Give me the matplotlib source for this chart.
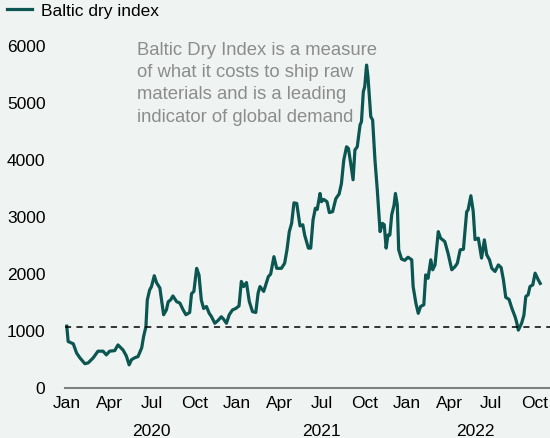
import matplotlib
matplotlib.use("Agg")
import matplotlib.pyplot as plt
import matplotlib.dates as mdates
import numpy as np
import pandas as pd

# Baltic Dry Index
start_date = "2020-01-01"
days_since_start = [
    0, 3, 14, 21, 28, 39, 46, 57, 67, 78, 85, 92, 103, 110, 116, 121, 128, 134,
    139, 146, 153, 161, 165, 170, 173, 178, 182, 188, 193, 200,
    208, 214, 218, 223, 228, 236, 243, 250, 256, 264, 268, 273, 279, 284, 289,
    294, 300, 306, 311, 318, 325, 332, 337, 343, 349, 356, 363, 370, 375, 380,
    386, 392, 399, 406, 411, 415, 423, 433, 438, 445, 451, 461, 468, 473, 478,
    483, 488, 494, 501, 507, 511, 519, 524, 529, 534, 538, 544, 547, 552, 559,
    564, 571, 578, 585, 590, 595, 601, 605, 610, 615, 619, 624, 630, 633, 637,
    640, 644, 647, 653, 657, 662, 667, 673, 678, 682, 686, 690, 694, 698, 703,
    706, 710, 713, 719, 726, 733, 741, 744, 750, 755, 760, 767, 771, 776, 782,
    786, 791, 798, 803, 812, 819, 827, 834, 839, 845, 852, 859, 862, 868, 873,
    877, 884, 891, 897, 902, 908, 913, 920, 927, 933, 938, 943, 950, 956, 963,
    966, 970, 977, 982, 986, 991, 995, 1001, 1006, 1013, 1017,
]
bdi = [
    1080, 810, 770, 610, 525, 420, 435, 525, 640, 640, 575, 640, 650, 750, 700,
    660, 555, 400, 490, 525, 545, 700, 895, 1070, 1540, 1715, 1775, 1965, 1840,
    1750,
    1280, 1365, 1510, 1540, 1610, 1510, 1485, 1365, 1280, 1320, 1650, 1690,
    2095, 1980, 1540, 1390, 1425, 1305, 1245, 1130, 1180, 1245, 1200, 1130,
    1280, 1365, 1390, 1435, 1865, 1775, 1845, 1515, 1335, 1320, 1660, 1775,
    1690, 1950, 1995, 2300, 2095, 2095, 2185, 2420, 2740, 2885, 3245, 3235,
    2840, 2860, 2680, 2450, 2450, 2945, 3150, 3130, 3410, 3265, 3305, 3265,
    3075, 3090, 3320, 3400, 3585, 3995, 4230, 4200, 3935, 3650, 4175, 4230,
    4615, 4670, 5195, 5285, 5665, 5460, 4760, 4700, 4000, 3475, 2740, 2885,
    2860, 2450, 2680, 2680, 3035, 3205, 3410, 3205, 2420, 2260, 2235, 2290,
    2245, 1775, 1480, 1305, 1425, 1455, 1980, 1920, 2245, 2070, 2155, 2740,
    2625, 2565, 2360, 2070, 2125, 2185, 2420, 2430, 3090, 3120, 3370, 3100,
    2600, 2625, 2275, 2595, 2335, 2245, 2095, 2040, 2155, 2110, 1890, 1585,
    1550, 1395, 1245, 1160, 1010, 1130, 1275, 1600, 1630, 1775, 1805, 2010,
    1890, 1830,
]
reference_level = 1070
y_ticks = [0, 1000, 2000, 3000, 4000, 5000, 6000]
month_ticks = [
    "2020-01-01", "2020-04-01", "2020-07-01", "2020-10-01",
    "2021-01-01", "2021-04-01", "2021-07-01", "2021-10-01",
    "2022-01-01", "2022-04-01", "2022-07-01", "2022-10-01",
]
month_labels = ["Jan", "Apr", "Jul", "Oct"] * 3
year_labels = ["2020", "2021", "2022"]
year_label_dates = ["2020-07-01", "2021-07-01", "2022-05-28"]

note = ("Baltic Dry Index is a measure\n"
        "of what it costs to ship raw\n"
        "materials and is a leading\n"
        "indicator of global demand")

BG = "#eff4f3"
LINE = "#0c5652"

plt.rcParams["font.family"] = ["Liberation Sans", "DejaVu Sans"]
plt.rcParams["font.size"] = 12.5

dates = pd.to_datetime(start_date) + pd.to_timedelta(days_since_start, unit="D")

fig = plt.figure(figsize=(5.5, 4.38), dpi=100, facecolor=BG)
ax = fig.add_axes([0.118, 0.115, 0.882, 0.78])
ax.set_facecolor(BG)

ax.plot(dates, bdi, color=LINE, linewidth=2.3, label="Baltic dry index",
        solid_joinstyle="round")
ax.axhline(reference_level, color="black", linewidth=1.1, linestyle=(0, (4, 3.5)))

ax.set_ylim(0, 6000)
ax.set_xlim(pd.Timestamp(start_date) - pd.Timedelta(days=4),
            pd.Timestamp(start_date) + pd.Timedelta(days=1038))
ax.set_yticks(y_ticks)
ax.set_xticks(pd.to_datetime(month_ticks))
ax.set_xticklabels(month_labels)
ax.tick_params(axis="both", length=0, labelcolor="black")
ax.tick_params(axis="x", pad=6)
ax.tick_params(axis="y", pad=14)

for side in ["top", "right", "left"]:
    ax.spines[side].set_visible(False)
ax.spines["bottom"].set_color("#808080")
ax.spines["bottom"].set_linewidth(1.5)

for label, d in zip(year_labels, year_label_dates):
    ax.text(mdates.date2num(pd.Timestamp(d)), -0.105, label,
            transform=ax.get_xaxis_transform(), ha="center", va="top")

fig.text(137 / 550, 1 - 42 / 438, note, color="#8c8c8c", ha="left", va="top",
         fontsize=13.3, linespacing=1.4)

fig.legend(loc="upper left", bbox_to_anchor=(-0.009, 1.02), frameon=False,
           handlelength=1.4, handletextpad=0.55, borderaxespad=0.3)

fig.savefig("out.png", dpi=100, facecolor=BG)
